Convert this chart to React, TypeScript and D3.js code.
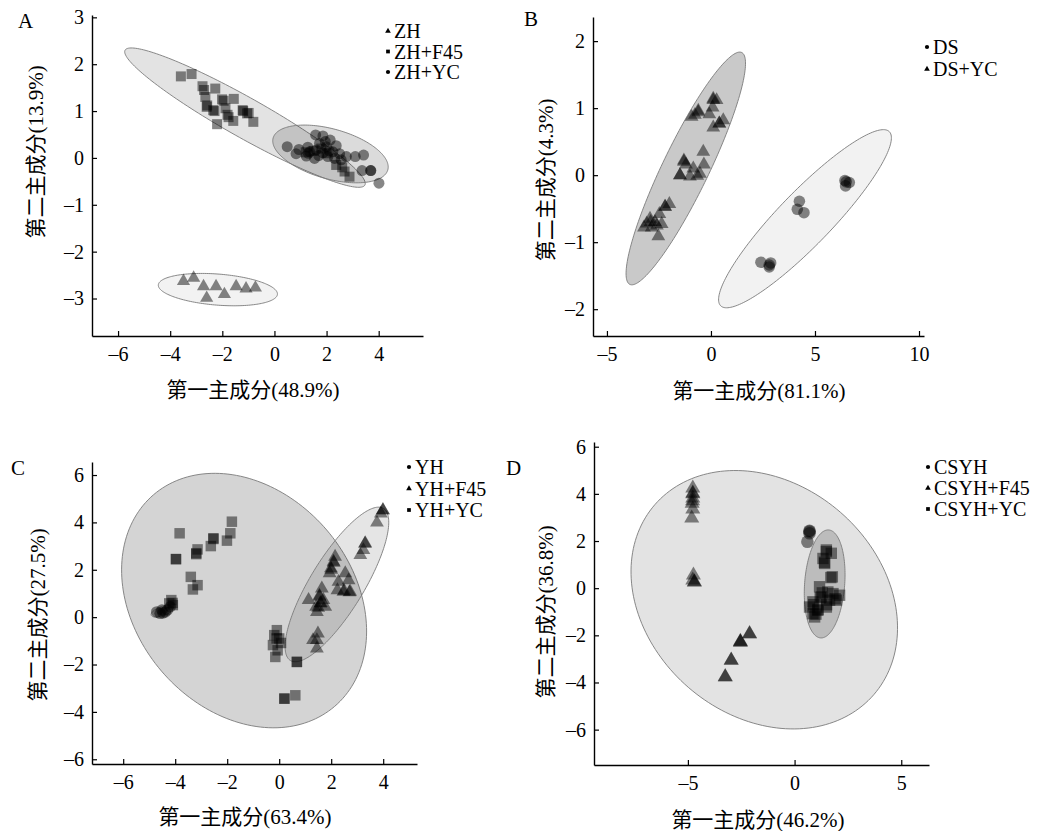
import React, { useEffect, useRef } from 'react';
import * as d3 from 'd3';

type Pt = [number, number];

// ---- A: ZH ----
const zhTri: Pt[] = [
  [-3.49, -2.63], [-3.10, -2.56], [-2.72, -2.74], [-2.24, -2.74], [-2.60, -2.99],
  [-1.92, -2.91], [-1.47, -2.74], [-1.09, -2.79], [-0.73, -2.77],
];
const zhF45Sq: Pt[] = [
  [-3.59, 1.74], [-3.18, 1.79], [-2.76, 1.53], [-2.27, 1.48], [-2.65, 1.30], [-2.01, 1.25],
  [-1.56, 1.26], [-2.60, 1.09], [-2.35, 1.02], [-1.88, 1.06], [-1.76, 0.87], [-1.58, 0.79],
  [-1.22, 1.02], [-0.99, 0.96], [-0.81, 0.77], [-2.20, 0.72], [2.37, -0.15], [2.69, -0.29],
  [2.88, -0.40], [-2.70, 1.45], [-2.58, 1.12], [-2.30, 1.00], [-1.95, 1.22], [-1.80, 0.92],
  [-1.20, 1.00], [-1.05, 0.95], [1.50, 0.15], [2.00, 0.10], [2.60, -0.20], [1.20, 0.12], [1.80, 0.20],
];
const zhYcCirc: Pt[] = [
  [0.49, 0.24], [0.94, 0.18], [1.28, 0.23], [1.58, 0.49], [1.86, 0.47], [2.14, 0.38], [1.73, 0.31],
  [2.37, 0.26], [2.76, 0.03], [3.10, 0.03], [3.42, 0.06], [3.36, -0.27], [3.69, -0.27], [4.01, -0.54],
  [0.83, 0.09], [1.22, 0.04], [1.54, -0.01], [1.86, 0.11], [2.05, 0.03], [2.31, -0.01], [2.56, -0.04],
  [1.60, 0.17], [1.35, 0.13], [1.99, 0.24], [2.24, 0.13], [2.50, 0.09], [1.30, 0.10], [1.70, 0.05],
  [2.10, 0.15], [1.95, 0.35], [3.70, -0.27],
];

// ---- B: DS ----
const dsCirc: Pt[] = [
  [4.25, -0.39], [4.15, -0.51], [4.47, -0.56], [2.40, -1.30], [2.80, -1.37], [2.87, -1.31],
  [6.44, -0.08], [6.65, -0.11], [6.47, -0.16], [6.50, -0.10], [2.80, -1.34],
];
const dsYcTri: Pt[] = [
  [0.11, 1.14], [0.27, 1.12], [0.08, 1.01], [-0.08, 0.91], [-0.61, 0.96], [-0.77, 0.90], [-0.93, 0.87],
  [0.59, 0.82], [0.40, 0.77], [0.11, 0.71], [-0.37, 0.35], [-1.30, 0.22], [-1.20, 0.16], [-1.49, 0.00],
  [-1.01, -0.02], [-0.85, 0.10], [-0.34, 0.16], [-0.53, 0.02], [-0.66, -0.01], [-2.00, -0.43],
  [-2.21, -0.47], [-2.48, -0.58], [-2.93, -0.65], [-3.09, -0.72], [-2.69, -0.70], [-2.85, -0.78],
  [-2.37, -0.73], [-2.53, -0.91], [-3.22, -0.78], [0.11, 1.12], [-0.61, 0.94], [0.40, 0.77],
  [-1.30, 0.20], [-1.49, 0.00], [-2.90, -0.70], [-2.60, -0.75], [-2.20, -0.47],
];

// ---- C: YH ----
const yhCirc: Pt[] = [
  [-4.71, 0.22], [-4.58, 0.16], [-4.47, 0.18], [-4.38, 0.22], [-4.30, 0.30], [-4.19, 0.44], [-4.51, 0.30],
];
const yhF45Tri: Pt[] = [
  [3.99, 4.52], [3.91, 4.38], [3.76, 3.99], [3.31, 3.12], [3.12, 2.62], [3.24, 2.83], [2.15, 2.55],
  [2.09, 2.34], [1.99, 2.06], [1.94, 1.85], [2.54, 1.85], [2.28, 1.49], [2.67, 1.56], [2.24, 1.14],
  [2.47, 1.07], [2.73, 1.07], [1.64, 1.21], [1.55, 0.86], [1.70, 0.72], [1.58, 0.58], [1.42, 0.44],
  [1.77, 0.44], [1.13, 0.72], [1.45, 0.22], [1.49, -0.69], [1.30, -0.97], [1.45, -1.32],
  [1.55, 0.90], [1.60, 0.60], [1.50, 0.40], [2.10, 2.30], [2.00, 2.00], [2.50, 1.10], [2.70, 1.05],
  [3.99, 4.50], [3.30, 3.10], [1.45, -0.97],
];
const yhYcSq: Pt[] = [
  [-1.82, 4.03], [-1.88, 3.54], [-2.01, 3.23], [-3.83, 3.54], [-2.53, 3.33], [-2.63, 3.00],
  [-3.14, 2.86], [-3.19, 2.66], [-3.97, 2.45], [-3.40, 1.70], [-3.14, 1.35], [-3.32, 1.17],
  [-4.15, 0.72], [-4.09, 0.51], [-4.23, 0.58], [-0.19, -0.76], [0.00, -0.90], [-0.24, -1.18],
  [-0.06, -1.40], [-0.15, -1.68], [0.68, -1.89], [0.20, -3.44], [0.62, -3.30], [-0.09, -0.55],
  [0.07, -1.09], [-3.97, 2.45], [-2.53, 3.30], [-3.19, 2.70], [-4.10, 0.60], [0.68, -1.89],
  [0.20, -3.44], [-0.10, -0.90],
];

// ---- D: CSYH ----
const csyhCirc: Pt[] = [[0.70, 2.44], [0.70, 2.33], [0.60, 1.97], [0.70, 2.40]];
const csyhF45Tri: Pt[] = [
  [-4.77, 4.24], [-4.77, 4.03], [-4.77, 3.82], [-4.80, 3.60], [-4.77, 3.35], [-4.82, 2.97],
  [-4.74, 0.55], [-4.69, 0.27], [-4.77, 0.34], [-2.11, -1.93], [-2.54, -2.28], [-2.97, -3.06],
  [-3.25, -3.77], [-2.11, -1.95], [-2.54, -2.30], [-2.97, -3.05], [-3.25, -3.75], [-2.54, -2.26],
  [-4.77, 4.00], [-4.78, 3.70], [-4.70, 0.25],
];
const csyhYcSq: Pt[] = [
  [1.49, 1.62], [1.72, 1.48], [1.33, 1.26], [1.41, 1.05], [1.77, 0.48], [1.56, -0.16], [1.25, -0.37],
  [0.86, -0.58], [0.70, -0.80], [1.09, -0.94], [0.86, -1.08], [1.49, -0.80], [1.96, -0.51],
  [2.11, -0.30], [1.80, -0.23], [1.17, 0.06], [0.94, -1.22], [1.64, -0.51], [1.49, 1.55],
  [1.40, 1.10], [1.70, 0.45], [1.20, -0.40], [0.90, -0.70], [1.10, -0.90], [1.50, -0.70],
  [1.90, -0.45], [1.30, -0.20], [1.00, -1.10],
];

// ---- confidence ellipses: centre, tip of major axis, minor/major ratio ----
const ellipsesA = [
  { cx: -1.13, cy: 0.86, tx: -5.73, ty: 2.30, ratio: 0.145 },
  { cx: 2.15, cy: 0.085, tx: 4.35, ty: -0.255, ratio: 0.42 },
  { cx: -2.17, cy: -2.81, tx: 0.115, ty: -2.91, ratio: 0.26 },
];
const ellipsesB = [
  { cx: -1.21, cy: 0.10, tx: 1.48, ty: 1.83, ratio: 0.18 },
  { cx: 4.52, cy: -0.65, tx: 8.57, ty: 0.65, ratio: 0.22 },
];
const ellipsesC = [
  { cx: -1.35, cy: 0.70, tx: 2.13, ty: -3.77, ratio: 0.78 },
  { cx: 2.22, cy: 1.38, tx: 4.01, ty: 4.59, ratio: 0.30 },
  { cx: -4.5, cy: 0.25, tx: -4.92, ty: 0.08, ratio: 0.4 },
];
const ellipsesD = [
  { cx: -1.42, cy: -0.49, tx: 3.71, ty: -4.52, ratio: 0.8 },
  { cx: 1.41, cy: 0.18, tx: 1.60, ty: 2.47, ratio: 0.37 },
];

// ticks
const ticksAx = [-6, -4, -2, 0, 2, 4];
const ticksAy = [-3, -2, -1, 0, 1, 2, 3];
const ticksBx = [-5, 0, 5, 10];
const ticksBy = [-2, -1, 0, 1, 2];
const ticksCx = [-6, -4, -2, 0, 2, 4];
const ticksCy = [-6, -4, -2, 0, 2, 4, 6];
const ticksDx = [-5, 0, 5];
const ticksDy = [-6, -4, -2, 0, 2, 4, 6];

const SERIF = "'Liberation Serif', 'Times New Roman', serif";
const MIXED = "'Liberation Serif', 'Noto Sans CJK SC', serif";

const panels = [
  {
    letter: 'A', letterX: 18, letterY: 28,
    xRange: [92, 423], yRange: [336, 15], xDomain: [-7, 5.7], yDomain: [-3.8, 3.05],
    xTicks: ticksAx, yTicks: ticksAy,
    xTitle: '第一主成分(48.9%)', xTitleX: 253, xTitleY: 397,
    yTitle: '第二主成分(13.9%)', yTitleX: 43, yTitleY: 152,
    legendX: 388, legendY: 38, legendGap: 20.5,
    series: [
      { label: 'ZH', shape: 'triangle', pts: zhTri },
      { label: 'ZH+F45', shape: 'square', pts: zhF45Sq },
      { label: 'ZH+YC', shape: 'circle', pts: zhYcCirc },
    ],
    ellipses: ellipsesA, shades: [0.11, 0.14, 0.05], markerScale: 1,
  },
  {
    letter: 'B', letterX: 524, letterY: 26,
    xRange: [593, 924], yRange: [336, 17], xDomain: [-5.67, 10.24], yDomain: [-2.4, 2.36],
    xTicks: ticksBx, yTicks: ticksBy,
    xTitle: '第一主成分(81.1%)', xTitleX: 759, xTitleY: 398,
    yTitle: '第二主成分(4.3%)', yTitleX: 553, yTitleY: 180,
    legendX: 927, legendY: 54, legendGap: 22,
    series: [
      { label: 'DS', shape: 'circle', pts: dsCirc },
      { label: 'DS+YC', shape: 'triangle', pts: dsYcTri },
    ],
    ellipses: ellipsesB, shades: [0.21, 0.05], markerScale: 1.1,
  },
  {
    letter: 'C', letterX: 11, letterY: 475,
    xRange: [92, 417], yRange: [764, 462], xDomain: [-7.2, 5.3], yDomain: [-6.2, 6.55],
    xTicks: ticksCx, yTicks: ticksCy,
    xTitle: '第一主成分(63.4%)', xTitleX: 245, xTitleY: 824,
    yTitle: '第二主成分(27.5%)', yTitleX: 45, yTitleY: 615,
    legendX: 409, legendY: 474, legendGap: 21.5,
    series: [
      { label: 'YH', shape: 'circle', pts: yhCirc },
      { label: 'YH+F45', shape: 'triangle', pts: yhF45Tri },
      { label: 'YH+YC', shape: 'square', pts: yhYcSq },
    ],
    ellipses: ellipsesC, shades: [0.17, 0.10, 0.05], markerScale: 1.1,
  },
  {
    letter: 'D', letterX: 506, letterY: 475,
    xRange: [594, 929], yRange: [765, 442], xDomain: [-9.4, 6.3], yDomain: [-7.5, 6.2],
    xTicks: ticksDx, yTicks: ticksDy,
    xTitle: '第一主成分(46.2%)', xTitleX: 758, xTitleY: 827,
    yTitle: '第二主成分(36.8%)', yTitleX: 553, yTitleY: 612,
    legendX: 928, legendY: 474, legendGap: 21,
    series: [
      { label: 'CSYH', shape: 'circle', pts: csyhCirc },
      { label: 'CSYH+F45', shape: 'triangle', pts: csyhF45Tri },
      { label: 'CSYH+YC', shape: 'square', pts: csyhYcSq },
    ],
    ellipses: ellipsesD, shades: [0.11, 0.17], markerScale: 1.3,
  },
];

const symbolTypes: { [k: string]: d3.SymbolType } = {
  triangle: d3.symbolTriangle,
  square: d3.symbolSquare,
  circle: d3.symbolCircle,
};
const symbolSizes: { [k: string]: number } = { triangle: 75, square: 100, circle: 95 };

const fmt = (d: d3.NumberValue) => {
  const v = +d;
  return v < 0 ? `–${Math.abs(v)}` : `${v}`;
};

export default function App() {
  const svgRef = useRef<SVGSVGElement>(null);

  useEffect(() => {
    if (!svgRef.current) return;
    document.body.style.margin = '0';
    const svg = d3.select(svgRef.current);
    svg.selectAll('*').remove();

    panels.forEach((p) => {
      const x = d3.scaleLinear().domain(p.xDomain).range(p.xRange);
      const y = d3.scaleLinear().domain(p.yDomain).range(p.yRange);
      const g = svg.append('g');

      // Ellipses (centre/tip in data space, minor axis perpendicular on screen)
      const line = d3.line<[number, number]>().curve(d3.curveLinearClosed);
      p.ellipses.forEach((e, i) => {
        const c = [x(e.cx), y(e.cy)];
        const a = [x(e.tx) - c[0], y(e.ty) - c[1]];
        const b = [-a[1] * e.ratio, a[0] * e.ratio];
        const pts: [number, number][] = d3.range(0, 2 * Math.PI, Math.PI / 90).map((t) => [
          c[0] + a[0] * Math.cos(t) + b[0] * Math.sin(t),
          c[1] + a[1] * Math.cos(t) + b[1] * Math.sin(t),
        ]);
        g.append('path')
          .attr('d', line(pts))
          .attr('fill', '#000')
          .attr('fill-opacity', p.shades[i])
          .attr('stroke', '#7a7a7a')
          .attr('stroke-width', 0.9);
      });

      // Points
      p.series.forEach((s) => {
        const sym = d3.symbol().type(symbolTypes[s.shape]).size(symbolSizes[s.shape] * p.markerScale);
        g.append('g')
          .selectAll('path')
          .data(s.pts)
          .join('path')
          .attr('d', sym)
          .attr('transform', (d) => `translate(${x(d[0])},${y(d[1])})`)
          .attr('fill', '#000')
          .attr('fill-opacity', 0.47);
      });

      // Axes
      const xAxis = g.append('g')
        .attr('transform', `translate(0,${p.yRange[0]})`)
        .call(d3.axisBottom(x).tickValues(p.xTicks).tickSizeInner(-5).tickSizeOuter(0).tickPadding(11).tickFormat(fmt));
      const yAxis = g.append('g')
        .attr('transform', `translate(${p.xRange[0]},0)`)
        .call(d3.axisLeft(y).tickValues(p.yTicks).tickSizeInner(-5).tickSizeOuter(0).tickPadding(8).tickFormat(fmt));
      [xAxis, yAxis].forEach((ax) => {
        ax.attr('font-family', SERIF).attr('font-size', 20);
        ax.select('.domain').attr('stroke', '#000').attr('stroke-width', 1.4);
        ax.selectAll('.tick line').attr('stroke', '#000').attr('stroke-width', 1.2);
        ax.selectAll('.tick text').attr('fill', '#000');
      });

      // Titles
      g.append('text')
        .attr('x', p.xTitleX)
        .attr('y', p.xTitleY)
        .attr('text-anchor', 'middle')
        .attr('font-family', MIXED)
        .attr('font-size', 21)
        .text(p.xTitle);
      g.append('text')
        .attr('transform', `translate(${p.yTitleX},${p.yTitleY}) rotate(-90)`)
        .attr('text-anchor', 'middle')
        .attr('font-family', MIXED)
        .attr('font-size', 21)
        .text(p.yTitle);

      // Panel letter
      g.append('text')
        .attr('x', p.letterX)
        .attr('y', p.letterY)
        .attr('font-family', SERIF)
        .attr('font-size', 21)
        .text(p.letter);

      // Legend
      p.series.forEach((s, i) => {
        const by = p.legendY + i * p.legendGap;
        g.append('path')
          .attr('d', d3.symbol().type(symbolTypes[s.shape]).size(14)())
          .attr('transform', `translate(${p.legendX},${by - 7})`)
          .attr('fill', '#000');
        g.append('text')
          .attr('x', p.legendX + 6)
          .attr('y', by)
          .attr('font-family', SERIF)
          .attr('font-size', 20)
          .text(s.label);
      });
    });
  }, []);

  return <svg ref={svgRef} width={1040} height={831} style={{ display: 'block', background: '#fff' }} />;
}
